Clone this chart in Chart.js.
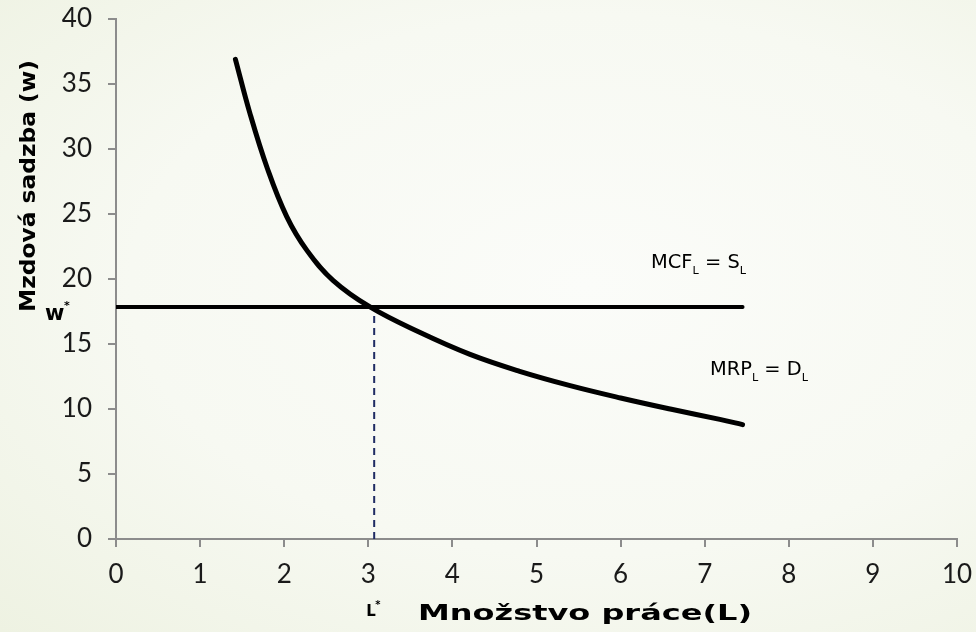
<!DOCTYPE html>
<html>
<head>
<meta charset="utf-8">
<script src="https://cdn.jsdelivr.net/npm/chart.js@4.4.0/dist/chart.umd.min.js"></script>
<style>
  html, body { margin: 0; padding: 0; }
  body {
    width: 976px; height: 632px; overflow: hidden;
    background: radial-gradient(ellipse at 60% 45%, #fbfcf9 0%, #f7f9f2 55%, #eef2e2 100%);
  }
  #wrap { position: relative; width: 976px; height: 632px; }
</style>
</head>
<body>
<div id="wrap"><canvas id="graf" width="976" height="632"></canvas></div>
<script>
// krivka MRP_L = D_L (odčítané z obrázka)
const mrpL = [1.42, 1.59, 1.8, 2.03, 2.27, 2.58, 3.02, 3.61, 4.21, 4.8, 5.4, 6.0, 6.59, 7.18, 7.45];
const mrpW = [36.9, 32.8, 28.5, 24.8, 22.2, 19.9, 17.85, 15.9, 14.2, 12.9, 11.8, 10.85, 10.0, 9.2, 8.8];

// MCF_L = S_L
const mcfL = [0, 7.45];
const mcfW = [17.85, 17.85];

// rovnováha
const lStar = 3.07;
const wStar = 17.85;

const xTicks = [0, 1, 2, 3, 4, 5, 6, 7, 8, 9, 10];
const yTicks = [0, 5, 10, 15, 20, 25, 30, 35, 40];

const body = (xs, ys) => xs.map((x, i) => ({ x: x, y: ys[i] }));

const popisy = {
    id: 'popisy',
    afterDraw(chart) {
        const ctx = chart.ctx;
        const sx = chart.scales.x, sy = chart.scales.y;
        ctx.save();
        ctx.fillStyle = '#000';
        ctx.textBaseline = 'middle';
        ctx.textAlign = 'left';

        // text roztiahnutý na danú šírku (Century Gothic je širší)
        function siroky(text, font, x, y, sirka) {
            ctx.save();
            ctx.font = font;
            const w = ctx.measureText(text).width;
            ctx.translate(x, y);
            ctx.scale(sirka / w, 1);
            ctx.fillText(text, 0, 0);
            ctx.restore();
        }

        // text so spodným indexom
        function sub(parts, x, y, sirka) {
            let spolu = 0;
            for (const p of parts) {
                ctx.font = p.s ? '400 11px "DejaVu Sans"' : '400 19px "DejaVu Sans"';
                spolu += ctx.measureText(p.t).width;
            }
            const k = sirka / spolu;
            let cx = x;
            for (const p of parts) {
                ctx.font = p.s ? '400 11px "DejaVu Sans"' : '400 19px "DejaVu Sans"';
                const w = ctx.measureText(p.t).width;
                ctx.save();
                ctx.translate(cx, p.s ? y + 8 : y);
                ctx.scale(k, 1);
                ctx.fillText(p.t, 0, 0);
                ctx.restore();
                cx += w * k;
            }
        }
        sub([{ t: 'MCF' }, { t: 'L', s: 1 }, { t: ' = S' }, { t: 'L', s: 1 }], 651, 263, 95);
        sub([{ t: 'MRP' }, { t: 'L', s: 1 }, { t: ' = D' }, { t: 'L', s: 1 }], 710, 370, 98);

        // w*
        const wy = sy.getPixelForValue(wStar);
        ctx.font = 'bold 21px "DejaVu Sans"';
        ctx.fillText('w', 45, wy + 8);
        ctx.font = 'bold 11px "DejaVu Sans"';
        ctx.fillText('*', 64, wy - 1);

        // L*
        const lx = sx.getPixelForValue(lStar);
        ctx.font = 'bold 15px "DejaVu Sans"';
        ctx.fillText('L', lx - 8, 612);
        ctx.font = 'bold 10px "DejaVu Sans"';
        ctx.fillText('*', lx + 1, 605);

        // názvy osí
        siroky('Množstvo práce(L)', 'bold 22px "DejaVu Sans"', 418, 614, 334);

        ctx.save();
        ctx.translate(29, 312);
        ctx.rotate(-Math.PI / 2);
        siroky('Mzdová sadzba (w)', 'bold 22px "DejaVu Sans"', 0, 0, 252);
        ctx.restore();
        ctx.restore();
    }
};

new Chart(document.getElementById('graf'), {
    type: 'scatter',
    data: {
        datasets: [
            {
                label: 'MRP',
                data: body(mrpL, mrpW),
                showLine: true,
                borderColor: '#000',
                borderWidth: 5,
                pointRadius: 0,
                tension: 0.4,
                borderCapStyle: 'round'
            },
            {
                label: 'MCF',
                data: body(mcfL, mcfW),
                showLine: true,
                borderColor: '#000',
                borderWidth: 4,
                pointRadius: 0,
                borderCapStyle: 'round'
            },
            {
                label: 'L*',
                data: body([lStar, lStar], [0, wStar]),
                showLine: true,
                borderColor: '#1f2b63',
                borderWidth: 2,
                borderDash: [7, 5],
                pointRadius: 0
            }
        ]
    },
    options: {
        responsive: false,
        animation: false,
        layout: { padding: { left: 0, top: 19, right: 19, bottom: 0 } },
        plugins: { legend: { display: false }, tooltip: { enabled: false } },
        scales: {
            x: {
                type: 'linear',
                min: 0, max: 10,
                afterBuildTicks: s => { s.ticks = xTicks.map(v => ({ value: v })); },
                afterFit: s => { s.height = 632 - 539; s.paddingLeft = 0; s.paddingRight = 0; },
                border: { display: true, color: '#8c8c8c', width: 2 },
                grid: { drawOnChartArea: false, drawTicks: true, tickLength: 8, color: '#8c8c8c', lineWidth: 2 },
                ticks: { color: '#1a1a1a', padding: 12, maxRotation: 0, font: { family: 'Lato', size: 26 } }
            },
            y: {
                type: 'linear',
                min: 0, max: 40,
                afterBuildTicks: s => { s.ticks = yTicks.map(v => ({ value: v })); },
                afterFit: s => { s.width = 116; s.paddingTop = 0; s.paddingBottom = 0; },
                border: { display: true, color: '#8c8c8c', width: 2 },
                grid: { drawOnChartArea: false, drawTicks: true, tickLength: 8, color: '#8c8c8c', lineWidth: 2 },
                ticks: { color: '#1a1a1a', padding: 16, font: { family: 'Lato', size: 26 } }
            }
        }
    },
    plugins: [popisy]
});
</script>
</body>
</html>
